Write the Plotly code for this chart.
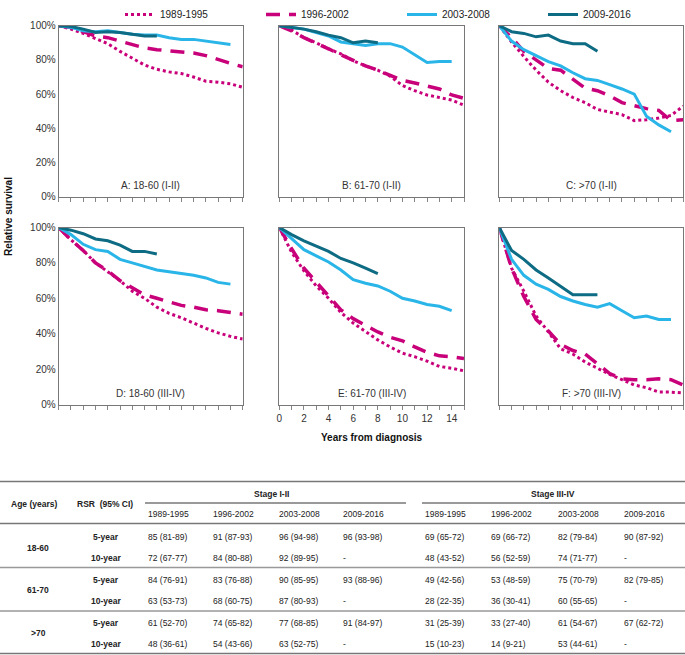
import plotly.graph_objects as go
from plotly.subplots import make_subplots

# ---- data (relative survival, %) ----
years = list(range(16))
periods = ["1989-1995", "1996-2002", "2003-2008", "2009-2016"]
panel_titles = ["A: 18-60 (I-II)", "B: 61-70 (I-II)", "C: >70 (I-II)",
                "D: 18-60 (III-IV)", "E: 61-70 (III-IV)", "F: >70 (III-IV)"]

A_8995 = [100, 98, 95.5, 92.5, 89.5, 85, 81, 77, 74.5, 73, 72, 70, 67.5, 67, 66, 64]
A_9602 = [100, 99, 96.5, 94, 93, 91, 89, 87, 86, 85.5, 84.5, 84, 82.5, 80, 78, 76]
A_0308 = [100, 99, 97, 96.5, 97, 96, 95, 94.5, 94.5, 93, 92, 92, 91, 90, 89]
A_0916 = [100, 99.5, 98, 96, 96.5, 96, 95, 94, 94]

B_8995 = [100, 97.5, 93, 90, 86.5, 83.5, 79.5, 76.5, 74, 70.5, 65, 62, 59.5, 58, 56.5, 53.5]
B_9602 = [100, 97, 93, 90, 86.5, 83, 79.5, 76.5, 74, 71, 68, 66.5, 65, 63, 59.5, 57.5]
B_0308 = [100, 99, 98, 96, 94, 90.5, 89.5, 88.5, 89.5, 89.5, 87.5, 83, 78.5, 79, 79]
B_0916 = [100, 99, 98, 96.5, 94.5, 93, 90, 91, 90]

C_8995 = [100, 90.5, 82, 74, 67, 62, 58, 55, 51, 49.5, 48, 44.5, 45, 46, 47.5, 53]
C_9602 = [100, 93, 85, 80, 75, 74, 68.5, 63.5, 62, 59, 55, 53, 51.5, 50.5, 44.5, 45]
C_0308 = [100, 91, 86, 82.5, 79, 76.5, 72.5, 69, 68, 65.5, 63, 60, 47, 42, 38]
C_0916 = [100, 96.5, 95.5, 93.5, 94.5, 91, 89.5, 89.5, 85]

D_8995 = [100, 93, 87, 80, 75, 70, 64, 60, 55, 51.5, 49, 46, 43, 40.5, 38.5, 37]
D_9602 = [100, 93, 87, 80, 75.5, 70, 66, 62, 60, 58, 56, 55, 53.5, 53, 52, 51]
D_0308 = [100, 96, 90.5, 87.5, 86.5, 82, 80, 78, 76, 75, 74, 73, 71.5, 69, 68]
D_0916 = [100, 98.5, 96.5, 93.5, 92.5, 90, 86.5, 86.5, 85]

E_8995 = [100, 86, 75.5, 67, 60, 52, 46, 41, 36.5, 32.5, 29, 27, 24.5, 21.5, 20.5, 19]
E_9602 = [100, 88, 77, 69, 61, 53.5, 48.5, 44.5, 41, 38, 36, 32.5, 29.5, 27.5, 27, 26]
E_0308 = [100, 93.5, 87.5, 84, 80.5, 76, 70.5, 68.5, 67, 64, 60, 58.5, 56.5, 55.5, 53]
E_0916 = [100, 96, 92.5, 89.5, 86.5, 82.5, 80, 77, 74]

F_8995 = [100, 77, 64, 50, 41, 31.5, 28.5, 24, 20.5, 17, 14, 11, 9.5, 7, 7, 6.5]
F_9602 = [100, 77, 61, 48, 41.5, 34, 30.5, 28.5, 23, 17.5, 14.5, 14, 14, 14.5, 14, 11]
F_0308 = [100, 82, 73, 68, 65, 61, 58.5, 56.5, 55, 57, 53, 49, 50, 48, 48]
F_0916 = [100, 87, 82, 76, 71.5, 67, 62, 62, 62]

panels = [
    [A_8995, A_9602, A_0308, A_0916],
    [B_8995, B_9602, B_0308, B_0916],
    [C_8995, C_9602, C_0308, C_0916],
    [D_8995, D_9602, D_0308, D_0916],
    [E_8995, E_9602, E_0308, E_0916],
    [F_8995, F_9602, F_0308, F_0916],
]

# table
age_groups = ["18-60", "61-70", ">70"]
rsr_labels = ["5-year", "10-year"]
stage_names = ["Stage I-II", "Stage III-IV"]
stage12 = [
    ["85 (81-89)", "91 (87-93)", "96 (94-98)", "96 (93-98)"],
    ["72 (67-77)", "84 (80-88)", "92 (89-95)", "-"],
    ["84 (76-91)", "83 (76-88)", "90 (85-95)", "93 (88-96)"],
    ["63 (53-73)", "68 (60-75)", "87 (80-93)", "-"],
    ["61 (52-70)", "74 (65-82)", "77 (68-85)", "91 (84-97)"],
    ["48 (36-61)", "54 (43-66)", "63 (52-75)", "-"],
]
stage34 = [
    ["69 (65-72)", "69 (66-72)", "82 (79-84)", "90 (87-92)"],
    ["48 (43-52)", "56 (52-59)", "74 (71-77)", "-"],
    ["49 (42-56)", "53 (48-59)", "75 (70-79)", "82 (79-85)"],
    ["28 (22-35)", "36 (30-41)", "60 (55-65)", "-"],
    ["31 (25-39)", "33 (27-40)", "61 (54-67)", "67 (62-72)"],
    ["15 (10-23)", "14 (9-21)", "53 (44-61)", "-"],
]

# ---- styling ----
W, H = 685, 655
FONT = "Liberation Sans, Arial, sans-serif"
colors = ["#C8007A", "#C8007A", "#29B5E8", "#0E6B84"]
dashes = ["3px,3px", "14px,9px", "solid", "solid"]
widths = [3, 3.5, 3, 3]


def fx(x):
    return x / W


def fy(y):
    return 1 - y / H


col_px = [(58.7, 242.7), (279.3, 464.0), (499.3, 683.3)]
row_px = [(25.7, 196.7), (227.5, 404.5)]

fig = make_subplots(rows=2, cols=3)


def label(text, x, y, size=10, color="#333", angle=0, xanchor="center"):
    fig.add_annotation(text=text, x=fx(x), y=fy(y), xref="paper", yref="paper",
                       showarrow=False, textangle=angle,
                       xanchor=xanchor, yanchor="middle",
                       font=dict(size=size, color=color))


for i, series in enumerate(panels):
    r, c = i // 3 + 1, i % 3 + 1
    for j, vals in enumerate(series):
        fig.add_trace(go.Scatter(
            x=years[:len(vals)], y=vals, mode="lines", name=periods[j],
            line=dict(color=colors[j], dash=dashes[j], width=widths[j]),
            showlegend=(i == 0), legendgroup=periods[j], hoverinfo="skip"),
            row=r, col=c)

    x0, x1 = col_px[c - 1]
    y0, y1 = row_px[r - 1]
    fig.update_xaxes(domain=[fx(x0), fx(x1)], range=[0, 15], dtick=2, tick0=0,
                     ticks="outside", ticklen=4, tickcolor="#888",
                     minor=dict(dtick=1, ticks="outside", ticklen=4, tickcolor="#888"),
                     showline=True, linecolor="#777", linewidth=1, mirror=True,
                     showgrid=False, zeroline=False,
                     showticklabels=(i == 4),
                     tickfont=dict(size=10, color="#333"),
                     row=r, col=c)
    fig.update_yaxes(domain=[fy(y1), fy(y0)], range=[0, 100], dtick=20,
                     ticksuffix="%", ticks="", showline=True, linecolor="#777",
                     linewidth=1, mirror=True, showgrid=False, zeroline=False,
                     showticklabels=(c == 1),
                     tickfont=dict(size=10, color="#333"),
                     row=r, col=c)
    label(panel_titles[i], (x0 + x1) / 2, y1 - 11)

label("<b>Relative survival</b>", 8, 217, color="#111", angle=-90)
label("<b>Years from diagnosis</b>", 372, 437, color="#111")

# ---- table ----
def ann(text, x, y, bold=False, xanchor="center"):
    label(f"<b>{text}</b>" if bold else text, x, y, size=8.5, color="#222",
          xanchor=xanchor)


def hline(x0, x1, y, color="#777", width=1.5):
    fig.add_shape(type="line", xref="paper", yref="paper",
                  x0=fx(x0), x1=fx(x1), y0=fy(y), y1=fy(y),
                  line=dict(color=color, width=width))


hline(0, W, 481.5)
hline(145, 406, 503)
hline(422, W, 503)
hline(0, W, 523.5)
hline(0, W, 567.5, color="#999")
hline(0, W, 611, color="#999")
hline(0, W, 653.5)

ann(stage_names[0], 271, 494, bold=True)
ann(stage_names[1], 553, 494, bold=True)
ann("Age (years)", 34, 504, bold=True)
ann("RSR  (95% CI)", 105, 504, bold=True)

col_left = [146, 211, 277, 341, 423, 489, 556, 622]
for k, p in enumerate(periods + periods):
    ann(p, col_left[k], 513.5, xanchor="left")

row_y = [537, 558, 579.5, 601, 623, 644]
group_y = [547.5, 590, 633]
for g, age in enumerate(age_groups):
    ann(age, 38, group_y[g], bold=True)
for rr in range(6):
    ann(rsr_labels[rr % 2], 106, row_y[rr], bold=True)
    for k in range(4):
        ann(stage12[rr][k], col_left[k], row_y[rr], xanchor="left")
        ann(stage34[rr][k], col_left[4 + k], row_y[rr], xanchor="left")

fig.update_layout(
    width=W, height=H,
    margin=dict(l=0, r=0, t=0, b=0, autoexpand=False),
    paper_bgcolor="white", plot_bgcolor="white",
    font=dict(family=FONT, color="#222"),
    legend=dict(orientation="h", x=fx(120), y=fy(0), xanchor="left", yanchor="top",
                entrywidth=96, entrywidthmode="pixels",
                font=dict(size=10, color="#222"), bgcolor="rgba(0,0,0,0)",
                itemwidth=30, tracegroupgap=0),
)

# page body has an 8px default margin; drop it so the figure fills the window
fig.write_html("out.html", config={"displayModeBar": False},
               post_script="document.body.style.margin='0';")
